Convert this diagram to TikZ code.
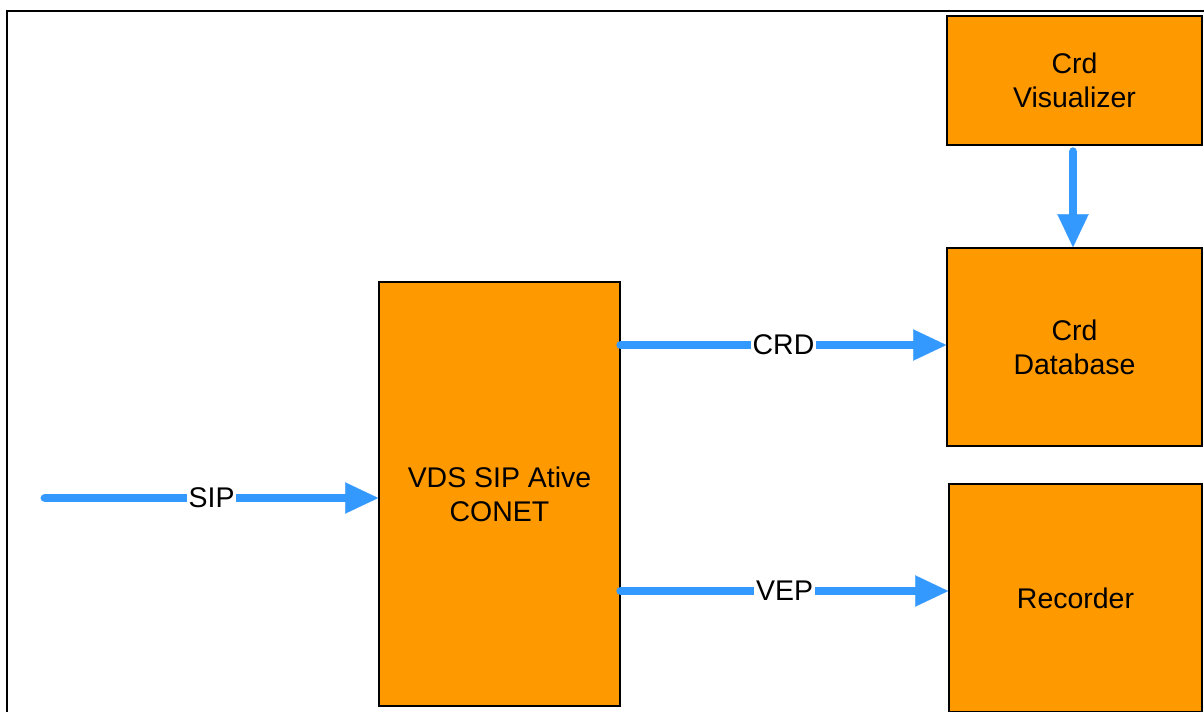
\documentclass[tikz,border=0pt]{standalone}
\usepackage{fontspec}
\setmainfont{Liberation Sans}
\usetikzlibrary{arrows.meta}
\definecolor{boxorange}{HTML}{FF9900}
\definecolor{arrowblue}{HTML}{3399FF}
\tikzset{
  box/.style={draw=black, line width=0.9pt, fill=boxorange, align=center, font=\fontsize{16.2pt}{19.5pt}\selectfont, inner sep=0pt},
  flow/.style={draw=arrowblue, line width=5.1pt, line cap=round, -{Triangle[length=18.8pt,width=17.8pt,line width=0.1pt]}},
  lbl/.style={fill=white, inner sep=1pt, font=\fontsize{16.2pt}{19.5pt}\selectfont, text=black}
}
\begin{document}
\begin{tikzpicture}[x=0.02cm,y=-0.02cm]
\useasboundingbox (0,0) rectangle (1204,711);
\clip (0,0) rectangle (1204,711);
\draw[line width=1.3pt] (7,11) rectangle (1260,780);
\node[box, minimum width=5.10cm, minimum height=2.58cm] (vis) at (1074.5,80.5) {Crd\\Visualizer};
\node[box, minimum width=5.10cm, minimum height=3.96cm] (db) at (1074.5,347) {Crd\\Database};
\node[box, minimum width=5.06cm, minimum height=4.56cm] (rec) at (1075.5,598) {Recorder};
\node[box, minimum width=4.82cm, minimum height=8.48cm] (vds) at (499.5,494) {VDS SIP Ative\\CONET};
\coordinate (sipstart) at (45,498);
\draw[flow] (sipstart) -- (vds.west |- sipstart) node[lbl, midway] {SIP};
\coordinate (crdy) at (0,345);
\draw[flow] (vds.east |- crdy) -- (db.west |- crdy) node[lbl, midway] {CRD};
\coordinate (vepy) at (0,591);
\draw[flow] (vds.east |- vepy) -- (rec.west |- vepy) node[lbl, midway] {VEP};
\coordinate (visx) at (1073,0);
\draw[flow] ([yshift=-0.12cm]vis.south -| visx) -- (db.north -| visx);
\end{tikzpicture}
\end{document}
